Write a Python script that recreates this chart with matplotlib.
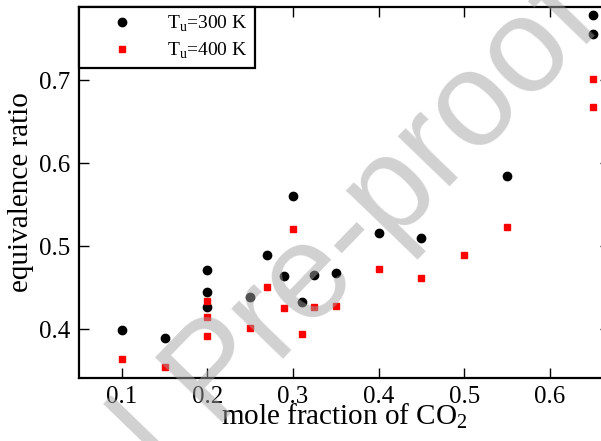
import numpy as np
import matplotlib
matplotlib.use('Agg')
from matplotlib import pyplot as plt

plt.rcParams['font.family'] = 'Liberation Serif'
plt.rcParams['mathtext.fontset'] = 'custom'
plt.rcParams['mathtext.rm'] = 'Liberation Serif'

# T_u = 300 K (black circles)
x_300 = [0.10, 0.15, 0.20, 0.20, 0.20, 0.25, 0.27, 0.29, 0.30, 0.31, 0.325, 0.35, 0.40, 0.45, 0.55, 0.65, 0.65]
y_300 = [0.399, 0.389, 0.471, 0.445, 0.426, 0.438, 0.489, 0.464, 0.560, 0.433, 0.465, 0.468, 0.516, 0.510, 0.584, 0.779, 0.756]

# T_u = 400 K (red squares)
x_400 = [0.10, 0.15, 0.20, 0.20, 0.20, 0.25, 0.27, 0.29, 0.30, 0.31, 0.325, 0.35, 0.40, 0.45, 0.50, 0.55, 0.65, 0.65]
y_400 = [0.364, 0.354, 0.434, 0.414, 0.391, 0.401, 0.451, 0.425, 0.520, 0.394, 0.426, 0.428, 0.472, 0.462, 0.489, 0.523, 0.701, 0.668]

xticks = [0.1, 0.2, 0.3, 0.4, 0.5, 0.6]
yticks = [0.4, 0.5, 0.6, 0.7]

fig = plt.figure(figsize=(6.01, 4.41), dpi=100)
ax = fig.add_axes([0.1314, 0.1429, 0.883, 0.841])

ax.plot(x_300, y_300, 'o', color='black', ms=6, label=r'T$_\mathrm{u}$=300 K')
ax.plot(x_400, y_400, 's', color='red', ms=5, label=r'T$_\mathrm{u}$=400 K')

ax.set_xlim(0.05, 0.67)
ax.set_ylim(0.341, 0.788)
ax.set_xticks(xticks)
ax.set_yticks(yticks)
ax.tick_params(direction='in', length=7, width=1, labelsize=18, top=True, right=True, pad=6)
for s in ax.spines.values():
    s.set_linewidth(1.6)

ax.set_xlabel(r'mole fraction of CO$_2$', fontsize=21, labelpad=-5)
ax.set_ylabel('equivalence ratio', fontsize=21, labelpad=4)

leg = ax.legend(loc='upper left', borderaxespad=0, fancybox=False, edgecolor='black',
                fontsize=14, handletextpad=0.5, handlelength=3.7, borderpad=0.35,
                labelspacing=0.35, framealpha=1)
leg.get_frame().set_linewidth(1.6)

# watermark
fig.text(0.405, 0.092, 'Journal Pre-proof', rotation=46, fontsize=97, family='Liberation Sans',
         color='#a3a3a3', alpha=0.5, ha='center', va='baseline', rotation_mode='anchor',
         zorder=10)

fig.savefig('out.png', dpi=100)
